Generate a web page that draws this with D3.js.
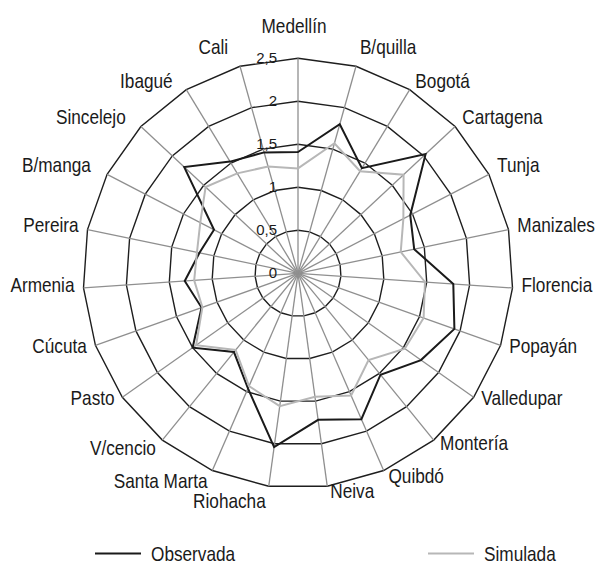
<!DOCTYPE html>
<html>
<head>
<meta charset="utf-8">
<script src="https://cdn.jsdelivr.net/npm/d3@7"></script>
<style>
  body { margin: 0; background: #fff; }
  svg { display: block; }
  text { font-family: "Liberation Sans", Arial, sans-serif; fill: #1a1a1a; }
  .tick { font-size: 15px; }
  .label { font-size: 21px; }
  .legend { font-size: 21px; }
</style>
</head>
<body>
<div id="chart"></div>
<script>
var width = 597;
var height = 564;

// data
var ciudades = ["Medellín", "B/quilla", "Bogotá", "Cartagena", "Tunja", "Manizales",
                "Florencia", "Popayán", "Valledupar", "Montería", "Quibdó", "Neiva",
                "Riohacha", "Santa Marta", "V/cencio", "Pasto", "Cúcuta", "Armenia",
                "Pereira", "B/manga", "Sincelejo", "Ibagué", "Cali"];
var observada = [1.41, 1.80, 1.43, 2.03, 1.47, 1.38, 1.81, 1.93, 1.75, 1.52, 1.85, 1.72,
                 2.04, 1.46, 1.18, 1.50, 1.19, 1.32, 1.17, 1.10, 1.81, 1.52, 1.46];
var simulada  = [1.22, 1.57, 1.39, 1.68, 1.38, 1.22, 1.48, 1.55, 1.52, 1.30, 1.55, 1.45,
                 1.56, 1.43, 1.15, 1.45, 1.18, 1.21, 1.20, 1.28, 1.47, 1.36, 1.29];
var ticks = [0, 0.5, 1, 1.5, 2, 2.5];
var series = ["Observada", "Simulada"];

var cx = 298, cy = 273.3, R = 215;
var n = ciudades.length;
var narrow = 0.82; // no narrow font installed, squeeze Liberation Sans instead

var svg = d3.select("#chart")
            .append("svg")
            .attr("width", width)
            .attr("height", height);

var g = svg.append("g")
           .attr("transform", "translate(" + cx + "," + cy + ")");

var r = d3.scaleLinear().domain([0, 2.5]).range([0, R]);
var angle = d3.scaleLinear().domain([0, n]).range([0, 2 * Math.PI]);

var es = d3.formatLocale({ decimal: ",", thousands: ".", grouping: [3], currency: ["$", ""] });
var fmt = es.format("~g");

var radial = d3.lineRadial()
               .angle(function(d, i) { return angle(i) })
               .curve(d3.curveLinearClosed);

// rings (polygons like the spreadsheet radar)
ticks.filter(function(t) { return t > 0 }).forEach(function(t) {
  g.append("path")
   .attr("d", radial.radius(function() { return r(t) })(ciudades))
   .attr("fill", "none")
   .attr("stroke", "#1e1e1e")
   .attr("stroke-width", 1.4);
});

// spokes
g.selectAll(".spoke")
 .data(ciudades)
 .enter()
 .append("line")
 .attr("class", "spoke")
 .attr("x1", 0).attr("y1", 0)
 .attr("x2", function(d, i) { return r(2.5) * Math.sin(angle(i)) })
 .attr("y2", function(d, i) { return -r(2.5) * Math.cos(angle(i)) })
 .attr("stroke", "#8f8f8f")
 .attr("stroke-width", 1.3);

// series
function drawSeries(values, color) {
  g.append("path")
   .datum(values)
   .attr("d", d3.lineRadial()
                .angle(function(d, i) { return angle(i) })
                .radius(function(d) { return r(d) })
                .curve(d3.curveLinearClosed))
   .attr("fill", "none")
   .attr("stroke", color)
   .attr("stroke-width", 2)
   .attr("stroke-linejoin", "miter");
}
drawSeries(observada, "#1a1a1a");
drawSeries(simulada, "#b7b7b7");

// tick labels along the first axis
g.selectAll(".tick")
 .data(ticks)
 .enter()
 .append("text")
 .attr("class", "tick")
 .attr("x", -21)
 .attr("y", function(d) { return -r(d) + 5 })
 .attr("text-anchor", "end")
 .text(function(d) { return fmt(d) });

// category labels
var dyByCos = d3.scaleLinear()
                .domain([-1, -0.9, -0.75, -0.55, -0.3, 0, 0.2, 0.45, 0.7, 0.85, 0.96, 1])
                .range([4, 5, 1.5, 0, 0, -4, -4.6, -9.5, -10, -8.5, -19, -33]);

function labelPos(i) {
  var s = Math.sin(angle(i)), c = Math.cos(angle(i));
  var gap = 2 + 7 * Math.abs(s);
  if (s < 0 && c > 0.4) gap += 8;       // left-top labels sit further out
  var x = Math.abs(s) < 0.05 ? R * s - 4 : R * s + Math.sign(s) * gap;
  var y = -R * c + dyByCos(c) + 7.5;
  if (s < 0 && c < -0.6) y += 5;        // left-bottom labels sit a bit lower
  return [x, y];
}

var labels = g.selectAll(".labelg")
              .data(ciudades)
              .enter()
              .append("g")
              .attr("class", "labelg")
              .attr("transform", function(d, i) {
                var p = labelPos(i);
                return "translate(" + p[0] + "," + p[1] + ") scale(" + narrow + ",1)";
              });

labels.append("text")
      .attr("class", "label")
      .attr("text-anchor", function(d, i) {
        var s = Math.sin(angle(i));
        return Math.abs(s) < 0.05 ? "middle" : (s > 0 ? "start" : "end");
      })
      .text(function(d) { return d });

// push apart overlapping labels, going anticlockwise
var placed = [];
var nodes = labels.nodes();
for (var i = n - 1; i >= 0; i--) {
  var node = nodes[i];
  var p = labelPos(i);
  var step = Math.cos(angle(i)) < 0 ? 1 : -1;
  for (var k = 0; k < 40; k++) {
    var b = node.getBoundingClientRect();
    var hit = placed.some(function(q) {
      return b.left < q.right && b.right > q.left &&
             b.top < q.bottom - 3 && b.bottom - 3 > q.top;
    });
    if (!hit) break;
    p[1] += step;
    node.setAttribute("transform", "translate(" + p[0] + "," + p[1] + ") scale(" + narrow + ",1)");
  }
  placed.push(node.getBoundingClientRect());
}

// legend
var legend = svg.append("g");
var legendX = [95, 428];
series.forEach(function(name, i) {
  legend.append("line")
        .attr("x1", legendX[i]).attr("x2", legendX[i] + 46)
        .attr("y1", 553.5).attr("y2", 553.5)
        .attr("stroke", i == 0 ? "#1a1a1a" : "#b7b7b7")
        .attr("stroke-width", 2);
  legend.append("g")
        .attr("transform", "translate(" + (legendX[i] + 56) + ",561) scale(" + narrow + ",1)")
        .append("text")
        .attr("class", "legend")
        .text(name);
});
</script>
</body>
</html>
